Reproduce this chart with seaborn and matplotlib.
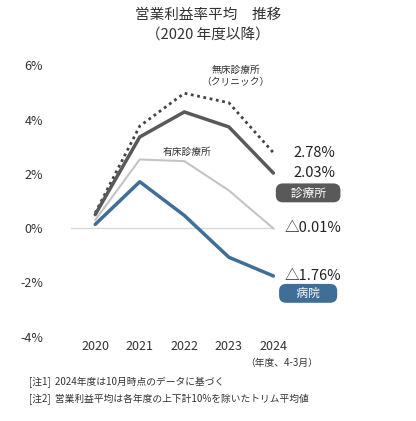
import matplotlib
matplotlib.use("Agg")
import matplotlib.pyplot as plt
import seaborn as sns
import pandas as pd

sns.set_theme(style="white")
plt.rcParams['font.family'] = ['Noto Sans CJK JP', 'DejaVu Sans']

years = [2020, 2021, 2022, 2023, 2024]
clinic_nobed = [0.56, 3.76, 4.97, 4.62, 2.78]
clinic_all = [0.50, 3.36, 4.28, 3.73, 2.03]
clinic_bed = [0.30, 2.53, 2.47, 1.39, -0.01]
hospital = [0.14, 1.71, 0.47, -1.07, -1.76]
yticks = [-4, -2, 0, 2, 4, 6]

fig = plt.figure(figsize=(4.16, 4.21), dpi=100)
ax = fig.add_axes([0.17, 0.20, 0.53, 0.645])
df = pd.DataFrame({"year": years, "nobed": clinic_nobed, "all": clinic_all,
                   "bed": clinic_bed, "hosp": hospital})
ax.axhline(0, color="#d8d8d8", lw=1, xmin=0.0, xmax=0.92)
sns.lineplot(data=df, x="year", y="nobed", ax=ax, color="#444444", lw=2, linestyle=(0, (1, 1.3)))
sns.lineplot(data=df, x="year", y="bed", ax=ax, color="#c4c4c4", lw=1.5)
sns.lineplot(data=df, x="year", y="all", ax=ax, color="#595959", lw=2.5)
sns.lineplot(data=df, x="year", y="hosp", ax=ax, color="#3f6e98", lw=2.5)
ax.set_xlim(2019.45, 2024.4)
ax.set_ylim(-4, 6)
ax.set_xticks(years)
ax.set_yticks(yticks)
ax.set_yticklabels([f"{v}%" for v in yticks])
ax.set_xlabel(""); ax.set_ylabel("")
for s in ax.spines.values():
    s.set_visible(False)
ax.tick_params(labelsize=9, colors="#333333", length=0)
ax.tick_params(axis="y", pad=20)
ax.tick_params(axis="x", pad=2)

fig.text(0.5, 0.955, "営業利益率平均　推移", ha="center", fontsize=10.5, color="#333333")
fig.text(0.5, 0.905, "（2020 年度以降）", ha="center", fontsize=10.5, color="#333333")
ax.text(2023.15, 5.6, "無床診療所\n（クリニック）", fontsize=7, color="#333333", ha="center", va="center", linespacing=1.3)
ax.text(2022.05, 2.7, "有床診療所", fontsize=7, color="#333333", ha="center")
kw = dict(fontsize=10.5, color="#222222", ha="left", va="center", clip_on=False)
ax.text(2024.45, 2.78, "2.78%", **kw)
ax.text(2024.45, 2.03, "2.03%", **kw)
ax.text(2024.25, -0.01, "△0.01%", **kw)
ax.text(2024.25, -1.76, "△1.76%", **kw)
ax.text(2024.78, 1.3, "　診療所　", fontsize=8.5, color="white", ha="center", va="center",
        bbox=dict(boxstyle="round,pad=0.25,rounding_size=0.6", fc="#595959", ec="none"))
ax.text(2024.78, -2.4, "　 病院 　", fontsize=8.5, color="white", ha="center", va="center",
        bbox=dict(boxstyle="round,pad=0.25,rounding_size=0.6", fc="#3f6e98", ec="none"))
fig.text(0.59, 0.13, "（年度、4-3月）", fontsize=7, color="#333333")
fig.text(0.07, 0.085, "[注1]  2024年度は10月時点のデータに基づく", fontsize=7, color="#333333")
fig.text(0.07, 0.045, "[注2]  営業利益平均は各年度の上下計10%を除いたトリム平均値", fontsize=7, color="#333333")
fig.savefig("out.png", dpi=100, facecolor="white")
